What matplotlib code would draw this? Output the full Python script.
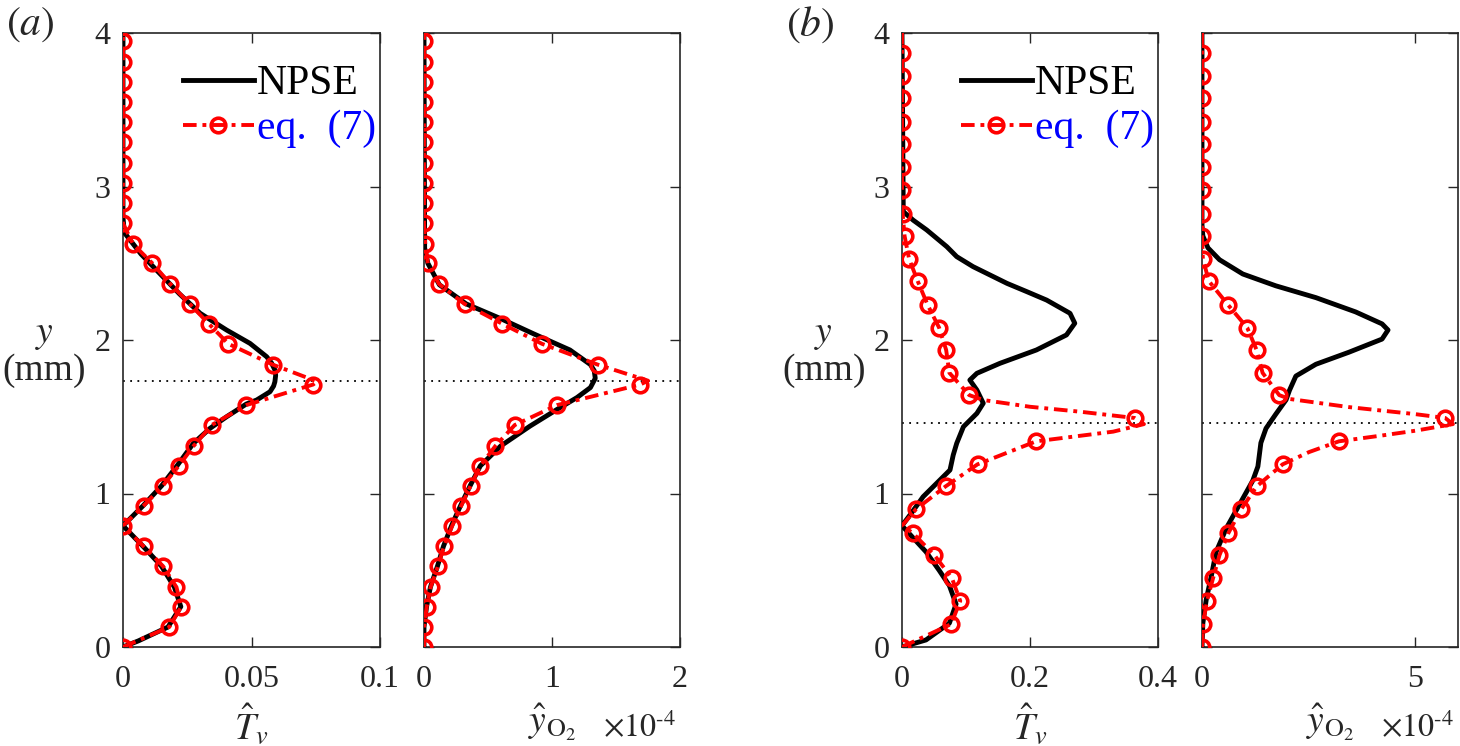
import numpy as np
import matplotlib.pyplot as plt
from matplotlib.ticker import FixedLocator, FixedFormatter

plt.rcParams['font.family'] = ['Liberation Serif', 'DejaVu Serif']
plt.rcParams['mathtext.fontset'] = 'stix'

# ---------------- panel (a) ----------------
# red markers (eq. 7), y in mm
ya_mk = [0, 0.13, 0.263, 0.39, 0.526, 0.656, 0.79, 0.92, 1.05, 1.18, 1.31, 1.446,
         1.576, 1.71, 1.84, 1.975, 2.105, 2.235, 2.365, 2.50, 2.625, 2.76, 2.89,
         3.02, 3.15, 3.29, 3.42, 3.55, 3.68, 3.81, 3.95]
Ta_mk = [0, 0.018, 0.0227, 0.0208, 0.0156, 0.008, 0, 0.008, 0.0155, 0.0217, 0.0275,
         0.0345, 0.048, 0.074, 0.0582, 0.041, 0.0334, 0.026, 0.0184, 0.0114, 0.0039,
         0, 0, 0, 0, 0, 0, 0, 0, 0, 0]
Ya_mk = [0, 0, 0.021, 0.052, 0.109, 0.156, 0.221, 0.291, 0.364, 0.44, 0.558, 0.709,
         1.04, 1.69, 1.356, 0.922, 0.613, 0.317, 0.117, 0.03, 0.01,
         0, 0, 0, 0, 0, 0, 0, 0, 0, 0]
# extra points of the red line between markers
ya_ex_T = [1.73, 4.0]
Ta_ex = [0.0755, 0]
ya_ex_Y = [1.735, 4.0]
Ya_ex = [1.75, 0]

# NPSE (black)
ya_T = [0, 0.04, 0.13, 0.263, 0.39, 0.526, 0.656, 0.79, 0.92, 1.05, 1.18, 1.327,
        1.425, 1.50, 1.583, 1.609, 1.64, 1.663, 1.70, 1.728, 1.77, 1.805, 1.85,
        1.891, 1.978, 2.065, 2.174, 2.30, 2.43, 2.56, 2.70, 2.80, 4.0]
Ta = [0, 0.006, 0.0175, 0.0225, 0.020, 0.015, 0.0078, 0, 0.0078, 0.015, 0.021,
      0.0274, 0.0339, 0.0403, 0.048, 0.052, 0.055, 0.0572, 0.0586, 0.0591, 0.0594,
      0.0591, 0.0578, 0.0559, 0.0494, 0.0403, 0.030, 0.022, 0.0145, 0.007, 0.0005,
      0, 0]
ya_Y = [0, 0.13, 0.263, 0.39, 0.526, 0.656, 0.79, 0.92, 1.05, 1.18, 1.31, 1.44,
        1.548, 1.625, 1.69, 1.75, 1.80, 1.84, 1.935, 2.04, 2.14, 2.235, 2.36, 2.50,
        2.60, 4.0]
Ya = [0, 0, 0.02, 0.05, 0.105, 0.152, 0.215, 0.285, 0.36, 0.44, 0.60, 0.83,
      1.04, 1.195, 1.30, 1.338, 1.33, 1.30, 1.14, 0.857, 0.597, 0.33, 0.12, 0.03,
      0.005, 0]
ya_dot = 1.733

# ---------------- panel (b) ----------------
yb_mk = [0, 0.149, 0.30, 0.449, 0.598, 0.743, 0.898, 1.046, 1.19, 1.34, 1.492,
         1.641, 1.786, 1.935, 2.08, 2.229, 2.384, 2.53, 2.678, 2.824, 2.978, 3.127,
         3.276, 3.42, 3.576, 3.72, 3.87]
Tb_mk = [0, 0.0767, 0.091, 0.078, 0.0506, 0.0167, 0.022, 0.068, 0.118, 0.2096,
         0.3635, 0.105, 0.074, 0.069, 0.058, 0.040, 0.0245, 0.011, 0.004, 0.001,
         0, 0, 0, 0, 0, 0, 0]
Yb_mk = [0, 0.023, 0.117, 0.26, 0.41, 0.62, 0.92, 1.28, 1.89, 3.21, 5.70, 1.81,
         1.42, 1.28, 1.06, 0.61, 0.16, 0.02, 0, 0, 0, 0, 0, 0, 0, 0, 0]
yb_ex_T = [0.79, 1.403, 1.452, 1.533, 1.565, 1.609, 4.0]
Tb_ex = [0, 0.330, 0.378, 0.278, 0.2, 0.127, 0]
yb_ex_Y = [1.27, 1.378, 1.409, 1.452, 1.517, 1.563, 1.616, 4.0]
Yb_ex = [2.51, 4.22, 5.0, 5.88, 5.0, 3.44, 2.05, 0]

yb_T = [0, 0.046, 0.155, 0.28, 0.40, 0.50, 0.62, 0.79, 0.88, 0.979, 1.066, 1.153,
        1.25, 1.327, 1.435, 1.522, 1.588, 1.674, 1.739, 1.783, 1.848, 1.935, 2.033,
        2.109, 2.174, 2.26, 2.315, 2.369, 2.478, 2.543, 2.608, 2.717, 2.78, 2.836,
        4.0]
Tb = [0, 0.0375, 0.074, 0.0845, 0.074, 0.058, 0.0375, 0, 0.016, 0.033, 0.054, 0.075,
      0.080, 0.0855, 0.096, 0.117, 0.127, 0.117, 0.106, 0.117, 0.153, 0.210, 0.257,
      0.270, 0.2625, 0.226, 0.195, 0.164, 0.111, 0.0855, 0.070, 0.0386, 0.0177,
      0.002, 0]
yb_Y = [0, 0.155, 0.31, 0.464, 0.619, 0.774, 0.929, 1.084, 1.176, 1.33, 1.424, 1.517,
        1.61, 1.672, 1.765, 1.842, 1.92, 2.006, 2.065, 2.105, 2.183, 2.276, 2.353,
        2.43, 2.523, 2.60, 2.678, 2.75, 4.0]
Yb = [0, 0.02, 0.10, 0.22, 0.33, 0.57, 0.88, 1.19, 1.31, 1.38, 1.50, 1.73, 1.97,
      2.05, 2.2, 2.67, 3.44, 4.22, 4.36, 4.22, 3.6, 2.67, 1.73, 0.956, 0.41, 0.14,
      0.02, 0, 0]
yb_dot = 1.459

# axis settings
yticks = [0, 1, 2, 3, 4]
xt_aT, xl_aT = [0, 0.05, 0.1], ['0', '0.05', '0.1']
xt_aY, xl_aY = [0, 1, 2], ['0', '1', '2']
xt_bT, xl_bT = [0, 0.2, 0.4], ['0', '0.2', '0.4']
xt_bY, xl_bY = [0, 5], ['0', '5']

axc = '#262626'
red_ls = (0, (3.5, 1.5, 1.0, 1.5))


def red_line(y_mk, x_mk, y_ex, x_ex):
    y = np.array(list(y_mk) + list(y_ex))
    x = np.array(list(x_mk) + list(x_ex))
    order = np.argsort(y, kind='stable')
    return x[order], y[order]


def panel(rect, x_b, y_b, x_mk, y_mk, x_ex, y_ex, ydot, xlim, xt, xl, xlabel,
          ylab=True, legend=False, scale=False):
    ax = fig.add_axes(rect)
    ax.plot(x_b, y_b, color='k', lw=3.5, label='NPSE', zorder=3,
            solid_joinstyle='round')
    xr, yr = red_line(y_mk, x_mk, y_ex, x_ex)
    ax.plot(xr, yr, color='#ff0000', lw=2.8, ls=red_ls, zorder=4)
    ax.plot(x_mk, y_mk, ls='none', marker='o', ms=10.5, mfc='none', mec='#ff0000',
            mew=2.6, zorder=5)
    # legend proxy for the red curve
    ax.plot([], [], color='#ff0000', lw=2.8, ls=red_ls, marker='o', ms=10.5,
            mfc='none', mec='#ff0000', mew=2.6, label='eq.  (7)')
    ax.axhline(ydot, color='k', lw=1.3, ls=(0, (1, 3)), zorder=2)
    ax.set_xlim(xlim)
    ax.set_ylim(0, 4)
    ax.xaxis.set_major_locator(FixedLocator(xt))
    ax.xaxis.set_major_formatter(FixedFormatter(xl))
    ax.yaxis.set_major_locator(FixedLocator(yticks))
    ax.tick_params(direction='in', length=7, width=1.0, top=True, right=True,
                   labelsize=23, colors=axc)
    ax.tick_params(axis='x', pad=13)
    ax.tick_params(axis='y', pad=9)
    for s in ax.spines.values():
        s.set_color(axc)
        s.set_linewidth(1.2)
    if ylab:
        ax.set_yticklabels([str(v) for v in yticks])
        ax.set_ylabel('$y$\n(mm)', rotation=0, fontsize=27, color=axc,
                      ha='center', va='center', linespacing=1.05)
        ax.yaxis.set_label_coords(-0.305, 0.48)
    else:
        ax.set_yticklabels([])
    ax.set_xlabel(xlabel, fontsize=27, color=axc, labelpad=6)
    if scale:
        ax.text(0.985, -0.147, r'$\times 10^{\text{-}4}$', transform=ax.transAxes,
                ha='right', va='baseline', fontsize=23, color=axc)
    if legend:
        leg = ax.legend(loc='upper right', bbox_to_anchor=(0.985, 0.948),
                        frameon=False, fontsize=30, handlelength=1.7,
                        handletextpad=0.08, labelspacing=0.15, borderaxespad=0.0,
                        borderpad=0.0)
        leg.get_texts()[1].set_color('blue')
    return ax


fig = plt.figure(figsize=(14.6, 7.46), dpi=100)
W, H = 1460, 746
bot = 1 - 647 / H
hgt = (647 - 33) / H

panel([123 / W, bot, 257 / W, hgt], Ta, ya_T, Ta_mk, ya_mk, Ta_ex, ya_ex_T, ya_dot,
      (0, 0.1), xt_aT, xl_aT, r'$\hat{T}_v$', ylab=True, legend=True)
panel([424 / W, bot, 256 / W, hgt], Ya, ya_Y, Ya_mk, ya_mk, Ya_ex, ya_ex_Y, ya_dot,
      (0, 2), xt_aY, xl_aY, r'$\hat{y}_{\mathrm{O_2}}$', ylab=False, scale=True)
panel([902 / W, bot, 256 / W, hgt], Tb, yb_T, Tb_mk, yb_mk, Tb_ex, yb_ex_T, yb_dot,
      (0, 0.4), xt_bT, xl_bT, r'$\hat{T}_v$', ylab=True, legend=True)
panel([1202 / W, bot, 256 / W, hgt], Yb, yb_Y, Yb_mk, yb_mk, Yb_ex, yb_ex_Y, yb_dot,
      (0, 6), xt_bY, xl_bY, r'$\hat{y}_{\mathrm{O_2}}$', ylab=False, scale=True)

fig.text(30 / W, 1 - 25 / H, r'$(a)$', fontsize=30, ha='center', va='center', color=axc)
fig.text(810 / W, 1 - 25 / H, r'$(b)$', fontsize=30, ha='center', va='center', color=axc)

fig.savefig('out.png', dpi=100)
